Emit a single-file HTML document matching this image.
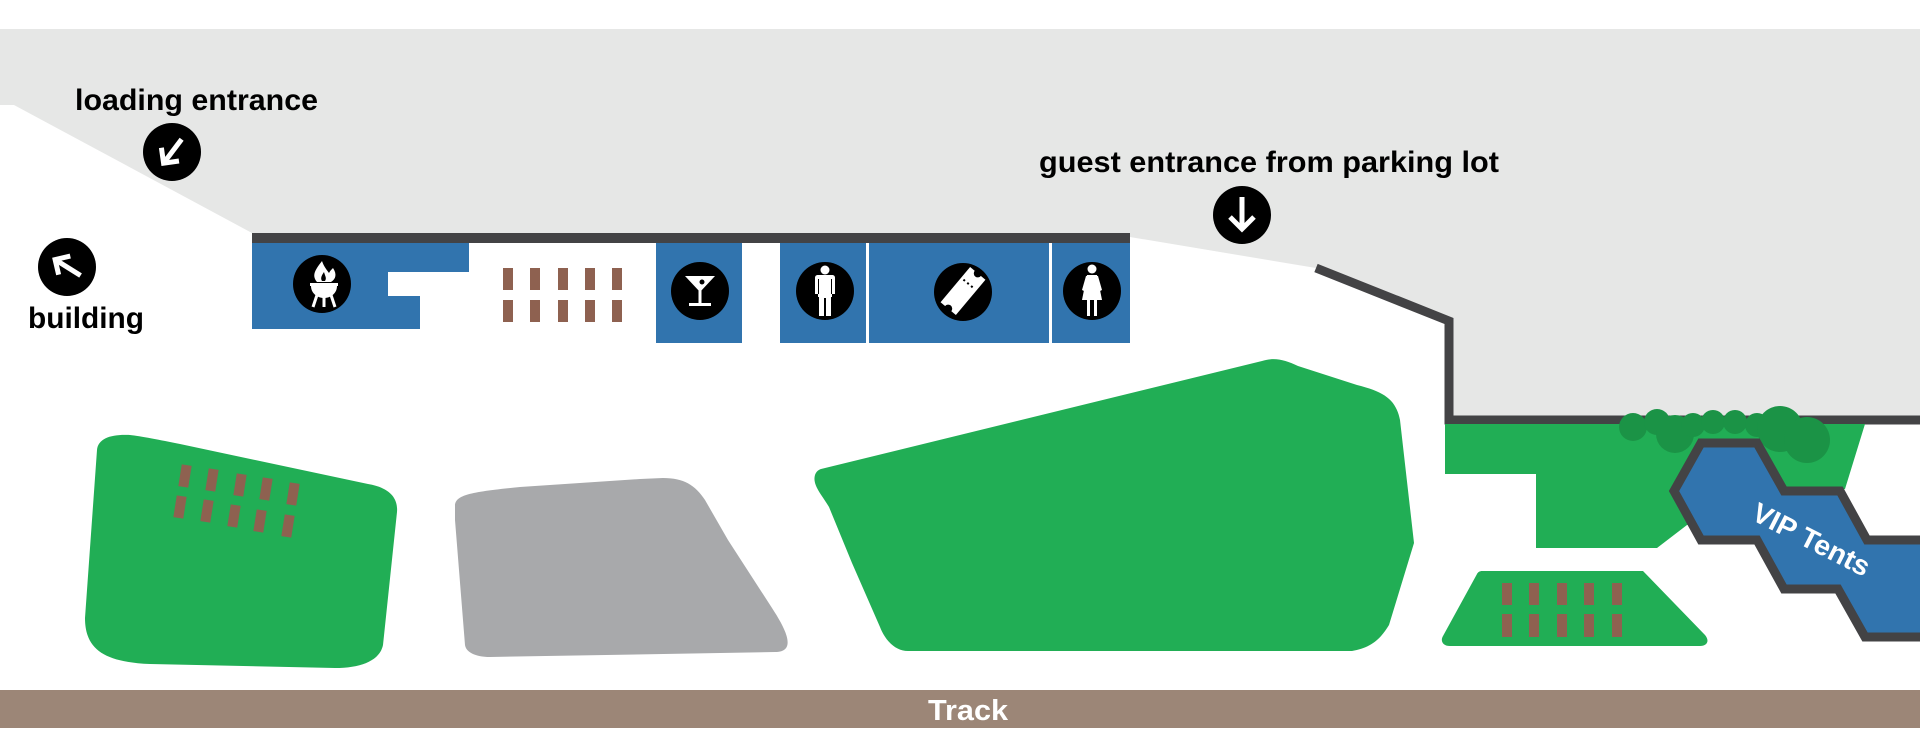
<!DOCTYPE html>
<html><head><meta charset="utf-8"><style>
html,body{margin:0;padding:0;background:#fff;}
svg{display:block;}
text{font-family:"Liberation Sans",sans-serif;font-weight:bold;}
</style></head><body>
<svg width="1920" height="744" viewBox="0 0 1920 744" xmlns="http://www.w3.org/2000/svg">
<rect x="0" y="0" width="1920" height="744" fill="#ffffff"/>
<!-- gray building band -->
<polygon points="0,29 1920,29 1920,420 1449,420 1449,320 1316,268 1130,237 252,233 14,105 0,105" fill="#e6e7e6"/>
<!-- dark bar -->
<rect x="252" y="233" width="878" height="10" fill="#434345"/>
<!-- blue blocks -->
<polygon points="252,243 469,243 469,272 388,272 388,296 420,296 420,329 252,329" fill="#3174ae"/>
<rect x="656" y="243" width="86" height="100" fill="#3174ae"/>
<rect x="780" y="243" width="86" height="100" fill="#3174ae"/>
<rect x="869" y="243" width="180" height="100" fill="#3174ae"/>
<rect x="1052" y="243" width="78" height="100" fill="#3174ae"/>
<!-- posts middle -->
<g fill="#8e6150">
<rect x="503" y="268" width="10" height="22"/><rect x="530" y="268" width="10" height="22"/><rect x="558" y="268" width="10" height="22"/><rect x="585" y="268" width="10" height="22"/><rect x="612" y="268" width="10" height="22"/>
<rect x="503" y="300" width="10" height="22"/><rect x="530" y="300" width="10" height="22"/><rect x="558" y="300" width="10" height="22"/><rect x="585" y="300" width="10" height="22"/><rect x="612" y="300" width="10" height="22"/>
</g>
<!-- wall -->
<polyline points="1316,268 1449,321 1449,420 1920,420" fill="none" stroke="#434345" stroke-width="9" stroke-linejoin="miter"/>

<!-- field 1 -->
<path d="M 97 450 C 98 438, 112 434, 130 435 C 140 436, 160 440, 180 444 L 368 484 C 392 488, 398 500, 397 512 L 383 645 C 380 660, 362 668, 335 668 L 150 664 C 105 662, 85 650, 85 618 Z" fill="#21ae55"/>
<g fill="#8e6150">
<rect x="-5" y="-11" width="10" height="22" transform="translate(185,476) rotate(9)"/>
<rect x="-5" y="-11" width="10" height="22" transform="translate(212,480) rotate(9)"/>
<rect x="-5" y="-11" width="10" height="22" transform="translate(240,485) rotate(9)"/>
<rect x="-5" y="-11" width="10" height="22" transform="translate(266,489) rotate(9)"/>
<rect x="-5" y="-11" width="10" height="22" transform="translate(293,494) rotate(9)"/>
<rect x="-5" y="-11" width="10" height="22" transform="translate(180,507) rotate(9)"/>
<rect x="-5" y="-11" width="10" height="22" transform="translate(207,511) rotate(9)"/>
<rect x="-5" y="-11" width="10" height="22" transform="translate(234,516) rotate(9)"/>
<rect x="-5" y="-11" width="10" height="22" transform="translate(260,521) rotate(9)"/>
<rect x="-5" y="-11" width="10" height="22" transform="translate(288,526) rotate(9)"/>
</g>
<!-- gray field -->
<path d="M 455 506 C 455 495, 470 492, 520 487 L 640 479 L 663 478 C 684 478, 695 485, 705 500 L 728 540 L 772 608 C 785 628, 798 652, 775 652 L 490 657 C 475 657, 466 652, 465 645 L 455 520 Z" fill="#a8a9ab"/>
<!-- big green field -->
<path d="M 821 469 L 1262 361 C 1275 357, 1285 360, 1298 366 L 1357 385 C 1385 392, 1396 400, 1400 420 L 1414 543 L 1389 625 C 1380 640, 1370 648, 1352 651 L 908 651 C 895 651, 885 640, 880 627 L 852 563 L 829 507 C 822 495, 812 485, 815 475 C 816 472, 818 470, 821 469 Z" fill="#21ae55"/>
<!-- field 4 -->
<polygon points="1445,424 1865,424 1845,489 1687,525 1657,548 1536,548 1536,474 1445,474" fill="#21ae55"/>
<!-- bushes -->
<g fill="#1b9346">
<circle cx="1633" cy="427" r="14"/>
<circle cx="1657" cy="422" r="13"/>
<circle cx="1675" cy="434" r="19"/>
<circle cx="1693" cy="425" r="12"/>
<circle cx="1713" cy="422" r="12"/>
<circle cx="1735" cy="422" r="12"/>
<circle cx="1757" cy="425" r="12"/>
<circle cx="1780" cy="429" r="23"/>
<circle cx="1807" cy="440" r="23"/>
</g>
<!-- VIP hex -->
<polygon points="1701,443 1757,443 1784,491 1840,491 1867,540 1930,540 1930,637 1865,637 1838,589 1784,589 1757,540 1701,540 1674,491" fill="#3174ae" stroke="#434345" stroke-width="9" stroke-linejoin="miter"/>
<text transform="translate(1750,519) rotate(27)" font-size="28" fill="#ffffff" textLength="128" lengthAdjust="spacingAndGlyphs">VIP Tents</text>
<!-- field 5 -->
<path d="M 1482 571 L 1643 571 L 1705 635 C 1710 641, 1707 646, 1700 646 L 1450 646 C 1443 646, 1440 641, 1443 636 L 1477 574 C 1478 572, 1480 571, 1482 571 Z" fill="#21ae55"/>
<g fill="#8e6150">
<rect x="1502" y="583" width="10" height="22"/><rect x="1529" y="583" width="10" height="22"/><rect x="1557" y="583" width="10" height="22"/><rect x="1584" y="583" width="10" height="22"/><rect x="1612" y="583" width="10" height="22"/>
<rect x="1502" y="614" width="10" height="23"/><rect x="1529" y="614" width="10" height="23"/><rect x="1557" y="614" width="10" height="23"/><rect x="1584" y="614" width="10" height="23"/><rect x="1612" y="614" width="10" height="23"/>
</g>
<!-- track -->
<rect x="0" y="690" width="1920" height="38" fill="#9c8677"/>
<text x="928" y="720" font-size="29" fill="#ffffff" textLength="80" lengthAdjust="spacingAndGlyphs">Track</text>

<!-- labels -->
<text x="75" y="110" font-size="30" fill="#000" textLength="243" lengthAdjust="spacingAndGlyphs">loading entrance</text>
<text x="28" y="328" font-size="30" fill="#000" textLength="116" lengthAdjust="spacingAndGlyphs">building</text>
<text x="1039" y="172" font-size="30" fill="#000" textLength="460" lengthAdjust="spacingAndGlyphs">guest entrance from parking lot</text>

<!-- arrow icons -->
<g>
<circle cx="172" cy="152" r="29" fill="#000"/>
<g transform="translate(172,152) rotate(37)" stroke="#fff" stroke-width="5" fill="none">
<line x1="0" y1="-16" x2="0" y2="13"/>
<polyline points="-11,3 0,14 11,3" stroke-linejoin="miter"/>
</g>
<circle cx="67" cy="267" r="29" fill="#000"/>
<g transform="translate(67,267) rotate(122)" stroke="#fff" stroke-width="5" fill="none">
<line x1="0" y1="-16" x2="0" y2="13"/>
<polyline points="-11,3 0,14 11,3" stroke-linejoin="miter"/>
</g>
<circle cx="1242" cy="215" r="29" fill="#000"/>
<g transform="translate(1242,215)" stroke="#fff" stroke-width="5" fill="none">
<line x1="0" y1="-18" x2="0" y2="14"/>
<polyline points="-12,2 0,14 12,2" stroke-linejoin="miter"/>
</g>
</g>

<!-- bbq -->
<circle cx="322" cy="284" r="29" fill="#000"/>
<g fill="#fff">
<path d="M 317 282 C 311 275, 316 269, 322 261 C 324 267, 327 270, 329 273 C 330 271, 331 270, 333 268 C 337 274, 336 279, 331 282 Z"/>
<path d="M 322 281 C 320 278, 322 275, 324 272 C 325 276, 327 278, 325 281 Z" fill="#000"/>
<rect x="310" y="283" width="28" height="3"/>
<path d="M 311 286 L 337 286 C 337 293, 331 298, 324 298 C 317 298, 311 293, 311 286 Z"/>
</g>
<g stroke="#fff" stroke-width="3">
<line x1="317" y1="295" x2="313" y2="307"/>
<line x1="324" y1="297" x2="324" y2="307"/>
<line x1="331" y1="295" x2="335" y2="307"/>
</g>

<!-- cocktail -->
<circle cx="700" cy="291" r="29" fill="#000"/>
<g fill="#fff">
<polygon points="685,276 715,276 700,292"/>
<rect x="698.5" y="290" width="3" height="14"/>
<rect x="689" y="303" width="22" height="3"/>
</g>
<circle cx="702" cy="282" r="2.5" fill="#000"/>

<!-- man -->
<circle cx="825" cy="291" r="29" fill="#000"/>
<g fill="#fff">
<circle cx="825" cy="270" r="4.5"/>
<path d="M 818 275 L 832 275 C 834 275, 835 276, 835 278 L 835 294 L 832 294 L 832 297 L 831 297 L 831 316 L 826 316 L 826 298 L 824 298 L 824 316 L 819 316 L 819 297 L 818 297 L 818 294 L 815 294 L 815 278 C 815 276, 816 275, 818 275 Z"/>
</g>
<g stroke="#000" stroke-width="1"><line x1="818.5" y1="279" x2="818.5" y2="294"/><line x1="831.5" y1="279" x2="831.5" y2="294"/></g>

<!-- ticket -->
<circle cx="963" cy="292" r="29" fill="#000"/>
<g transform="translate(963,291) rotate(-50)">
<rect x="-23" y="-10" width="46" height="20" fill="#fff"/>
<circle cx="-23" cy="0" r="4" fill="#000"/>
<circle cx="23" cy="0" r="4" fill="#000"/>
<g fill="#000"><rect x="8" y="-7" width="2" height="2"/><rect x="8" y="-2" width="2" height="2"/><rect x="8" y="3" width="2" height="2"/></g>
</g>

<!-- woman -->
<circle cx="1092" cy="291" r="29" fill="#000"/>
<g fill="#fff">
<circle cx="1092" cy="269" r="4.5"/>
<polygon points="1087,275 1097,275 1102,300 1082,300"/>
<rect x="1087" y="299" width="3" height="17"/>
<rect x="1094" y="299" width="3" height="17"/>
<polygon points="1086,276 1088,276 1084,291 1082,290"/>
<polygon points="1096,276 1098,276 1102,290 1100,291"/>
</g>
</svg>
</body></html>
